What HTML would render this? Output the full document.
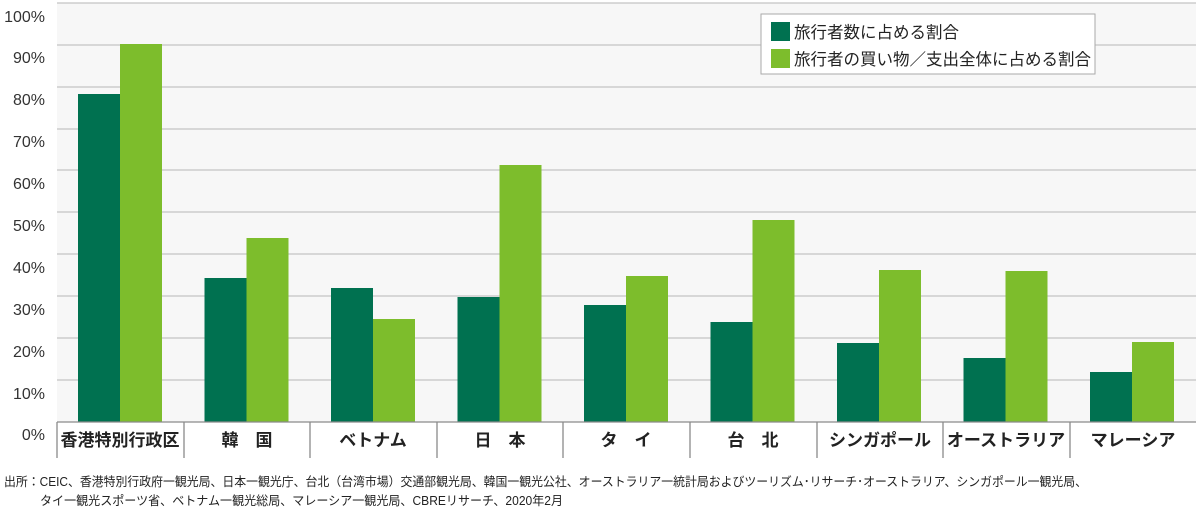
<!DOCTYPE html>
<html><head><meta charset="utf-8"><style>
body{margin:0;background:#fff;}
svg{display:block;font-family:"Liberation Sans","Noto Sans CJK JP",sans-serif;}
</style></head><body>
<svg width="1200" height="510" viewBox="0 0 1200 510">
<rect x="57" y="3" width="1139" height="419" fill="#f7f7f7"/>
<g stroke="#c4c4c4" stroke-width="1.3">
<line x1="57" x2="1196" y1="3" y2="3"/><line x1="57" x2="1196" y1="45" y2="45"/>
<line x1="57" x2="1196" y1="87" y2="87"/><line x1="57" x2="1196" y1="129" y2="129"/>
<line x1="57" x2="1196" y1="170" y2="170"/><line x1="57" x2="1196" y1="212" y2="212"/>
<line x1="57" x2="1196" y1="254" y2="254"/><line x1="57" x2="1196" y1="296" y2="296"/>
<line x1="57" x2="1196" y1="338" y2="338"/><line x1="57" x2="1196" y1="380" y2="380"/>
</g>
<g font-size="16" fill="#333" text-anchor="end">
<text x="45" y="22">100%</text><text x="45" y="63">90%</text><text x="45" y="105">80%</text>
<text x="45" y="147">70%</text><text x="45" y="189">60%</text><text x="45" y="231">50%</text>
<text x="45" y="273">40%</text><text x="45" y="315">30%</text><text x="45" y="357">20%</text>
<text x="45" y="399">10%</text><text x="45" y="440">0%</text>
</g>
<g fill="#007150">
<rect x="78" y="94" width="42" height="328"/>
<rect x="204.5" y="278" width="42" height="144"/>
<rect x="331" y="288" width="42" height="134"/>
<rect x="457.5" y="297" width="42" height="125"/>
<rect x="584" y="305" width="42" height="117"/>
<rect x="710.5" y="322" width="42" height="100"/>
<rect x="837" y="343" width="42" height="79"/>
<rect x="963.5" y="358" width="42" height="64"/>
<rect x="1090" y="372" width="42" height="50"/>
</g>
<g fill="#7dbd2c">
<rect x="120" y="44" width="42" height="378"/>
<rect x="246.5" y="238" width="42" height="184"/>
<rect x="373" y="319" width="42" height="103"/>
<rect x="499.5" y="165" width="42" height="257"/>
<rect x="626" y="276" width="42" height="146"/>
<rect x="752.5" y="220" width="42" height="202"/>
<rect x="879" y="270" width="42" height="152"/>
<rect x="1005.5" y="271" width="42" height="151"/>
<rect x="1132" y="342" width="42" height="80"/>
</g>
<line x1="57" x2="1196" y1="422" y2="422" stroke="#8a8a8a" stroke-width="1.3"/>
<g stroke="#8a8a8a" stroke-width="1.3">
<line x1="57" x2="57" y1="422" y2="458"/><line x1="184" x2="184" y1="422" y2="458"/>
<line x1="310" x2="310" y1="422" y2="458"/><line x1="437" x2="437" y1="422" y2="458"/>
<line x1="563" x2="563" y1="422" y2="458"/><line x1="690" x2="690" y1="422" y2="458"/>
<line x1="817" x2="817" y1="422" y2="458"/><line x1="943" x2="943" y1="422" y2="458"/>
<line x1="1070" x2="1070" y1="422" y2="458"/>
</g>
<g font-size="17" fill="#222" text-anchor="middle" font-weight="bold">
<text x="120" y="446">香港特別行政区</text><text x="247" y="446">韓　国</text>
<text x="373" y="446">ベトナム</text><text x="500" y="446">日　本</text>
<text x="626" y="446">タ　イ</text><text x="753" y="446">台　北</text>
<text x="880" y="446">シンガポール</text><text x="1006" y="446">オーストラリア</text>
<text x="1133" y="446">マレーシア</text>
</g>
<rect x="761" y="14" width="334" height="60" fill="#fff" stroke="#aaa" stroke-width="1"/>
<rect x="771" y="22" width="19" height="19" fill="#007150"/>
<rect x="771" y="49" width="19" height="19" fill="#7dbd2c"/>
<g font-size="16.5" fill="#222">
<text x="794" y="38">旅行者数に占める割合</text>
<text x="794" y="65">旅行者の買い物／支出全体に占める割合</text>
</g>
<g font-size="12.5" fill="#222">
<text x="4" y="486" textLength="1083" lengthAdjust="spacingAndGlyphs">出所：CEIC、香港特別行政府一観光局、日本一観光庁、台北（台湾市場）交通部観光局、韓国一観光公社、オーストラリア一統計局およびツーリズム･リサーチ･オーストラリア、シンガポール一観光局、</text>
<text x="40" y="505" textLength="523" lengthAdjust="spacingAndGlyphs">タイ一観光スポーツ省、ベトナム一観光総局、マレーシア一観光局、CBREリサーチ、2020年2月</text>
</g>
</svg>
</body></html>
